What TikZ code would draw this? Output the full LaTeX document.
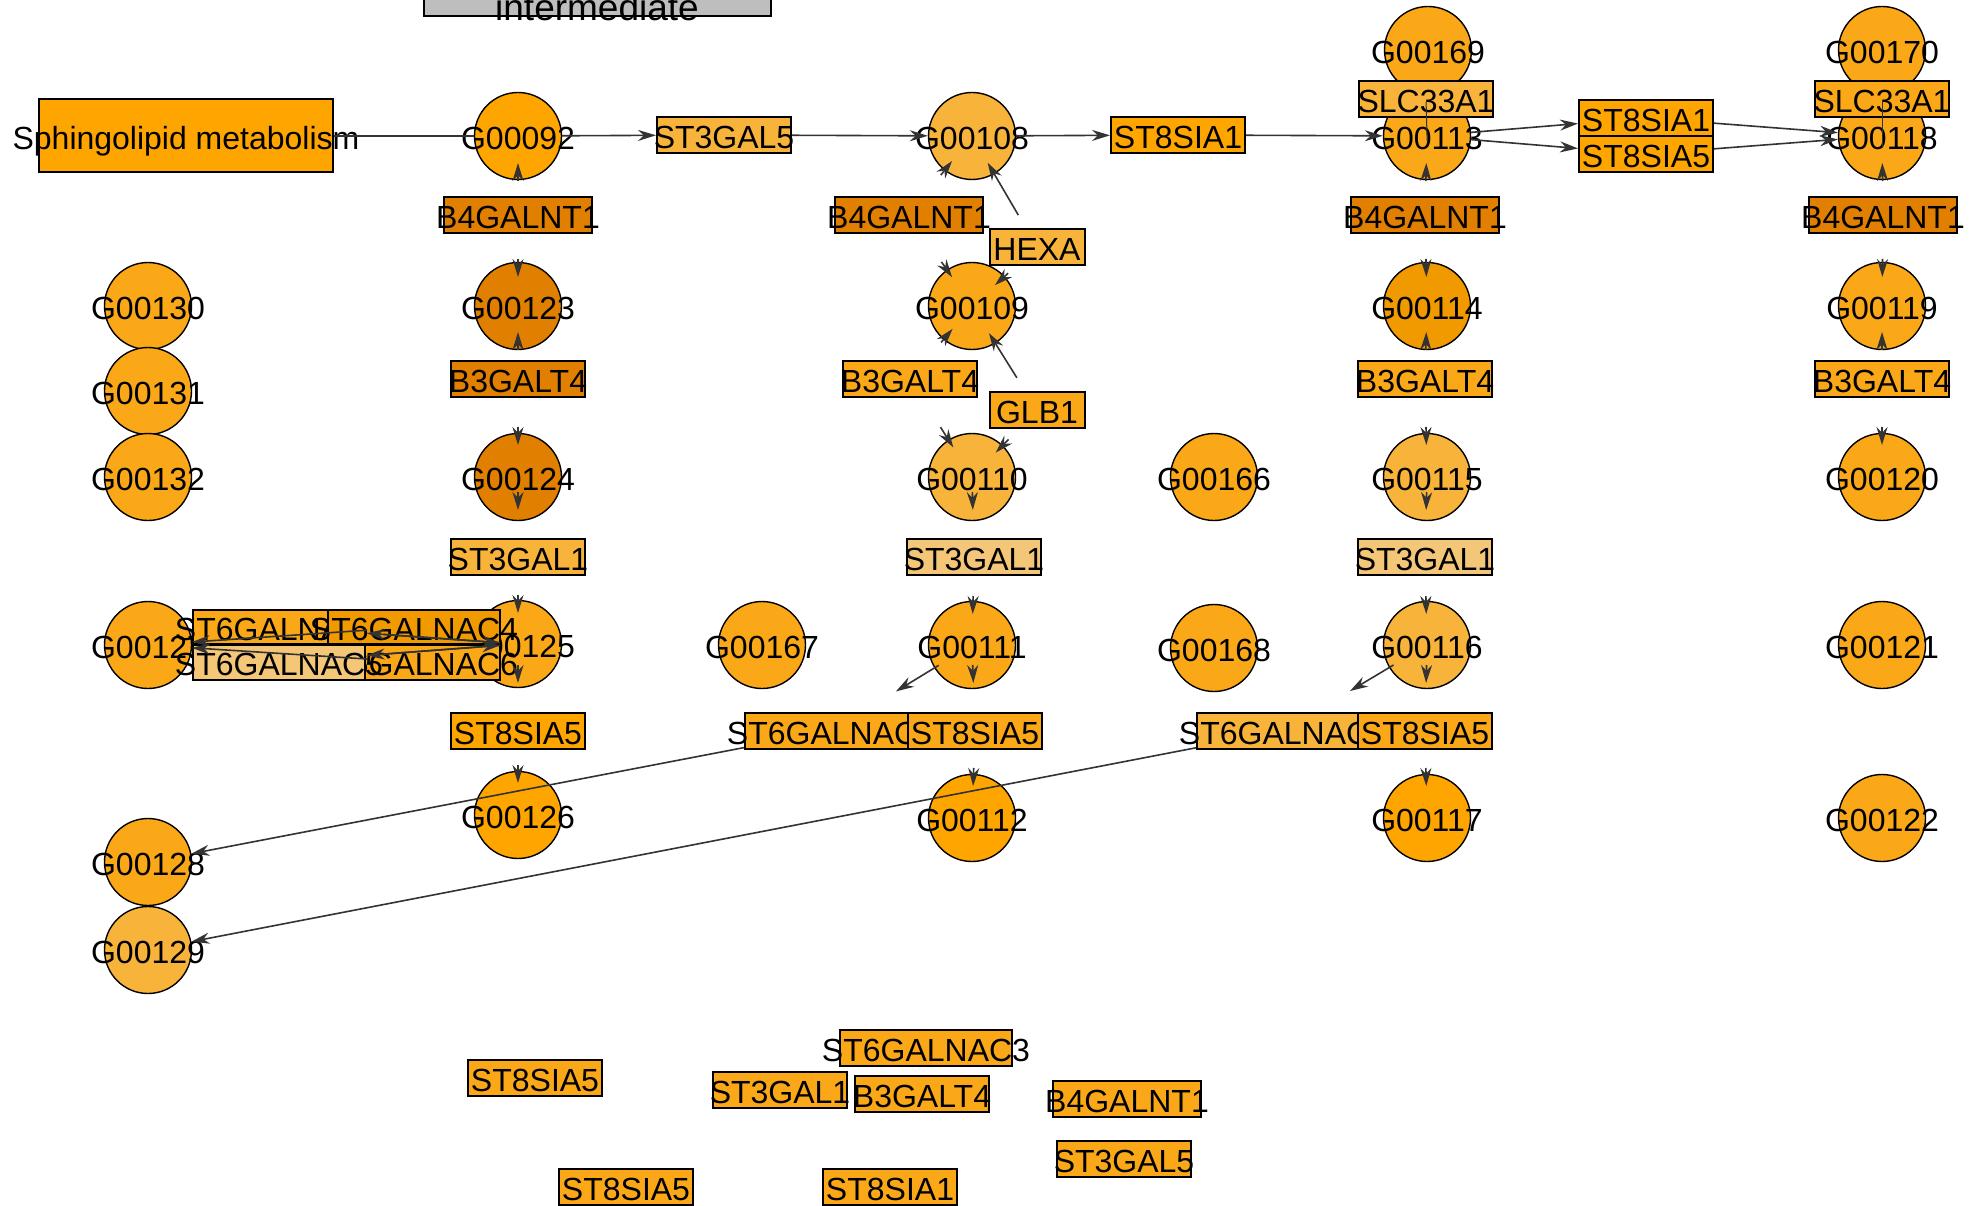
\documentclass[tikz,border=0pt]{standalone}
\usepackage{fontspec}
\setmainfont{Liberation Sans}
\usetikzlibrary{arrows.meta}

\definecolor{orA}{HTML}{FFA500}
\definecolor{orB}{HTML}{FAA818}
\definecolor{orC}{HTML}{F8B43A}
\definecolor{orD}{HTML}{F3C678}
\definecolor{orE}{HTML}{E17F00}
\definecolor{orF}{HTML}{F19A00}
\definecolor{mapgrey}{HTML}{BEBEBE}

\begin{document}
\begin{tikzpicture}[
    x = 1pt, y = -1pt, % one unit per pixel, y going down
    > = {Stealth[length=18pt,width=11pt]}, % arrow head style
    every node/.style={font=\fontsize{32}{32}\selectfont, inner sep=0pt,
      text height=27pt, text depth=0pt,
      execute at begin node={\hbox to 0pt\bgroup\hss},
      execute at end node={\hss\egroup}}, % text may run over its shape
    every edge/.style={draw, line width=1.6pt, black!80},
    compound/.style={circle, draw, line width=1.4pt, fill=#1, minimum size=87pt},
    gene/.style={rectangle, draw, line width=2pt, fill=#1, minimum width=134pt, minimum height=36pt},
    stub/.style 2 args={->, shorten <=#1pt, shorten >=#2pt} % head only
  ]
  \useasboundingbox (0,0) rectangle (1972,1206);

  % Nodes
  \node[gene=mapgrey, minimum width=347pt,
    label={[anchor=base, label distance=4pt, font=\fontsize{37}{37}\selectfont]south:intermediate}]
    (inter) at (597,-2) {};
  \node[gene=orA, minimum width=294pt, minimum height=73pt] (sphingo) at (186,136) {Sphingolipid metabolism};
  \node[compound=orA] (g00092) at (518,136) {G00092};
  \node[gene=orC] (st3gal5a) at (724,135) {ST3GAL5};
  \node[compound=orC] (g00108) at (972,136) {G00108};
  \node[gene=orA] (st8sia1a) at (1178,135) {ST8SIA1};
  \node[compound=orB] (g00169) at (1428,50) {G00169};
  \node[compound=orB] (g00113) at (1427,136) {G00113};
  \node[gene=orC] (slc33a1a) at (1426,99) {SLC33A1};
  \node[gene=orA] (st8sia1b) at (1646,118) {ST8SIA1};
  \node[gene=orA] (st8sia5a) at (1646,154) {ST8SIA5};
  \node[compound=orB] (g00170) at (1882,50) {G00170};
  \node[compound=orB] (g00118) at (1882,136) {G00118};
  \node[gene=orB] (slc33a1b) at (1882,99) {SLC33A1};

  \node[gene=orE, minimum width=148pt] (b4galnt1a) at (518,215) {B4GALNT1};
  \node[gene=orE, minimum width=148pt] (b4galnt1b) at (909,215) {B4GALNT1};
  \node[gene=orE, minimum width=148pt] (b4galnt1c) at (1425,215) {B4GALNT1};
  \node[gene=orE, minimum width=148pt] (b4galnt1d) at (1883,215) {B4GALNT1};
  \node[gene=orC, minimum width=95pt] (hexa) at (1037,247) {HEXA};

  \node[compound=orB] (g00130) at (148,306) {G00130};
  \node[compound=orB] (g00131) at (148,391) {G00131};
  \node[compound=orB] (g00132) at (148,477) {G00132};
  \node[compound=orE] (g00123) at (518,306) {G00123};
  \node[compound=orB] (g00109) at (972,306) {G00109};
  \node[compound=orF] (g00114) at (1427,306) {G00114};
  \node[compound=orB] (g00119) at (1882,306) {G00119};

  \node[gene=orE] (b3galt4a) at (518,379) {B3GALT4};
  \node[gene=orB] (b3galt4b) at (910,379) {B3GALT4};
  \node[gene=orB] (b3galt4c) at (1425,379) {B3GALT4};
  \node[gene=orB] (b3galt4d) at (1882,379) {B3GALT4};
  \node[gene=orB, minimum width=95pt] (glb1) at (1037,410) {GLB1};

  \node[compound=orE] (g00124) at (518,477) {G00124};
  \node[compound=orC] (g00110) at (972,477) {G00110};
  \node[compound=orB] (g00166) at (1214,477) {G00166};
  \node[compound=orC] (g00115) at (1427,477) {G00115};
  \node[compound=orB] (g00120) at (1882,477) {G00120};

  \node[gene=orC] (st3gal1a) at (518,557) {ST3GAL1};
  \node[gene=orD] (st3gal1b) at (974,557) {ST3GAL1};
  \node[gene=orD] (st3gal1c) at (1425,557) {ST3GAL1};

  \node[compound=orB] (g00127) at (148,645) {G00127};
  \node[compound=orB] (g00125) at (518,644) {G00125};
  \node[gene=orB, minimum width=172pt, minimum height=34pt] (st6galnac3a) at (279,627) {ST6GALNAC3};
  \node[gene=orF, minimum width=172pt, minimum height=34pt] (st6galnac4a) at (414,627) {ST6GALNAC4};
  \node[gene=orB, minimum width=172pt, minimum height=35pt] (st6galnac6a) at (414,662) {ST6GALNAC6};
  \node[gene=orD, minimum width=172pt, minimum height=35pt] (st6galnac5a) at (279,662) {ST6GALNAC5};
  \node[compound=orB] (g00167) at (762,645) {G00167};
  \node[compound=orB] (g00111) at (972,645) {G00111};
  \node[compound=orB] (g00168) at (1214,648) {G00168};
  \node[compound=orC] (g00116) at (1427,645) {G00116};
  \node[compound=orB] (g00121) at (1882,645) {G00121};

  \node[gene=orA] (st8sia5b) at (518,731) {ST8SIA5};
  \node[gene=orB, minimum width=172pt] (st6galnac3b) at (831,731) {ST6GALNAC3};
  \node[gene=orB] (st8sia5c) at (975,731) {ST8SIA5};
  \node[gene=orC, minimum width=172pt] (st6galnac3c) at (1283,731) {ST6GALNAC3};
  \node[gene=orB] (st8sia5d) at (1425,731) {ST8SIA5};

  \node[compound=orA] (g00126) at (518,815) {G00126};
  \node[compound=orA] (g00112) at (972,818) {G00112};
  \node[compound=orA] (g00117) at (1427,818) {G00117};
  \node[compound=orB] (g00122) at (1882,818) {G00122};
  \node[compound=orB] (g00128) at (148,862) {G00128};
  \node[compound=orC] (g00129) at (148,950) {G00129};

  \node[gene=orB, minimum width=172pt] (st6galnac3d) at (926,1048) {ST6GALNAC3};
  \node[gene=orB] (st8sia5e) at (535,1078) {ST8SIA5};
  \node[gene=orB] (st3gal1d) at (780,1090) {ST3GAL1};
  \node[gene=orB] (b3galt4e) at (922,1094) {B3GALT4};
  \node[gene=orB, minimum width=148pt] (b4galnt1e) at (1127,1099) {B4GALNT1};
  \node[gene=orB] (st3gal5b) at (1124,1159) {ST3GAL5};
  \node[gene=orB] (st8sia5f) at (626,1187) {ST8SIA5};
  \node[gene=orB] (st8sia1c) at (890,1187) {ST8SIA1};

  % Edges
  \path
    (sphingo) edge (g00092)
    (g00092) edge[->] (st3gal5a)
    (st3gal5a) edge[->] (g00108)
    (g00108) edge[->] (st8sia1a)
    (st8sia1a) edge[->] (g00113)
    (g00113) edge[->] (st8sia1b)
    (g00113) edge[->] (st8sia5a)
    (st8sia1b) edge[->] (g00118)
    (st8sia5a) edge[->] (g00118)
    (slc33a1a.center) edge[line width=1pt, shorten <=3pt, shorten >=-5pt] (g00113.center)
    (slc33a1b.center) edge[line width=1pt, shorten <=1pt, shorten >=-12pt] (g00118.center)
    (st6galnac3b) edge[->] (g00128)
    (st6galnac3c) edge[->] (g00129);

  % Edges, heads only
  \path
    (b4galnt1a.center) edge[stub={34}{27}] (g00092.center)
    (b4galnt1a.center) edge[stub={44}{29}] (g00123.center)
    (b3galt4a.center) edge[stub={29}{26}] (g00123.center)
    (b3galt4a.center) edge[stub={48}{32}] (g00124.center)
    (g00124.center) edge[stub={15}{47}] (st3gal1a.center)
    (st3gal1a.center) edge[stub={38}{31}] (g00125.center)
    (g00125.center) edge[stub={21}{48}] (st8sia5b.center)
    (st8sia5b.center) edge[stub={34}{32}] (g00126.center)
    (b4galnt1c.center) edge[stub={34}{27}] (g00113.center)
    (b4galnt1c.center) edge[stub={44}{29}] (g00114.center)
    (b3galt4c.center) edge[stub={29}{26}] (g00114.center)
    (b3galt4c.center) edge[stub={48}{32}] (g00115.center)
    (g00115.center) edge[stub={15}{47}] (st3gal1c.center)
    (st3gal1c.center) edge[stub={39}{31}] (g00116.center)
    (g00116.center) edge[stub={20}{48}] (st8sia5d.center)
    (st8sia5d.center) edge[stub={37}{32}] (g00117.center)
    (b4galnt1d.center) edge[stub={34}{27}] (g00118.center)
    (b4galnt1d.center) edge[stub={44}{29}] (g00119.center)
    (b3galt4d.center) edge[stub={29}{26}] (g00119.center)
    (b3galt4d.center) edge[stub={48}{32}] (g00120.center)
    (g00110.center) edge[stub={15}{47}] (st3gal1b.center)
    (st3gal1b.center) edge[stub={39}{31}] (g00111.center)
    (g00111.center) edge[stub={20}{48}] (st8sia5c.center)
    (st8sia5c.center) edge[stub={37}{32}] (g00112.center)
    (b4galnt1b.center) edge[stub={51}{32}] (g00108.center)
    (b4galnt1b.center) edge[stub={57}{35}] (g00109.center)
    (b3galt4b.center) edge[stub={48}{30}] (g00109.center)
    (b3galt4b.center) edge[stub={57}{35}] (g00110.center)
    (hexa.center) edge[stub={37}{31}] (g00108.center)
    (hexa.center) edge[stub={39}{31}] (g00109.center)
    (glb1.center) edge[stub={38}{32}] (g00109.center)
    (glb1.center) edge[stub={41}{34}] (g00110.center)
    (g00111.center) edge[stub={39}{76}] (st6galnac3b.center)
    (g00116.center) edge[stub={39}{78}] (st6galnac3c.center)
    (st6galnac4a.center) edge[stub={47}{44}] (g00127.center)
    (g00125.center) edge[stub={18}{88}] (st6galnac3a.center)
    (st6galnac3a.center) edge[stub={105}{18}] (g00125.center)
    (st6galnac6a.center) edge[stub={47}{44}] (g00127.center)
    (g00125.center) edge[stub={18}{88}] (st6galnac5a.center)
    (st6galnac5a.center) edge[stub={105}{18}] (g00125.center);
\end{tikzpicture}
\end{document}
